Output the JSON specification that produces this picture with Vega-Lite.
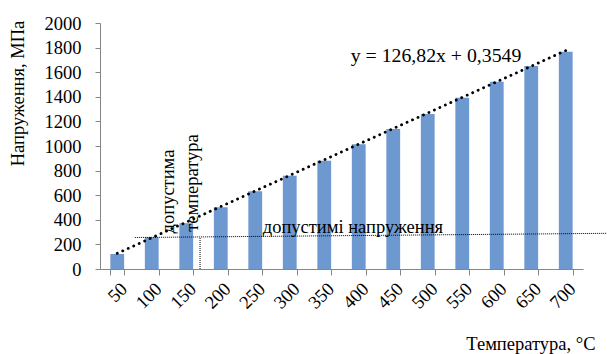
{
  "$schema": "https://vega.github.io/schema/vega-lite/v6.json",
  "width": 483,
  "height": 246,
  "autosize": "none",
  "padding": {"left": 100, "top": 23, "right": 24, "bottom": 85},
  "background": "white",
  "config": {"font": "Liberation Serif", "view": {"stroke": null},
    "axis": {"labelFont": "Liberation Serif", "titleFont": "Liberation Serif", "labelOverlap": false, "grid": false},
    "text": {"font": "Liberation Serif"}},
  "resolve": {"scale": {"x": "independent"}, "axis": {"x": "independent"}},
  "layer": [
    {
      "data": {"values": [
        {"t": "50", "v": 122, "trend": 127.2},
        {"t": "100", "v": 258},
        {"t": "150", "v": 372},
        {"t": "200", "v": 502},
        {"t": "250", "v": 632},
        {"t": "300", "v": 759},
        {"t": "350", "v": 880},
        {"t": "400", "v": 1014},
        {"t": "450", "v": 1138},
        {"t": "500", "v": 1260},
        {"t": "550", "v": 1393},
        {"t": "600", "v": 1523},
        {"t": "650", "v": 1650},
        {"t": "700", "v": 1767, "trend": 1775.8}
      ]},
      "layer": [
        {
          "mark": {"type": "bar", "color": "#6e98d0"},
          "encoding": {
            "x": {"field": "t", "type": "ordinal", "sort": null,
              "scale": {"paddingInner": 0.6, "paddingOuter": 0.3},
              "axis": {"title": "Температура, °C", "labelAngle": -45, "labelFontSize": 18.5, "labelColor": "black",
                "tickBand": "extent", "tickSize": 6, "tickColor": "#868686", "domainColor": "#868686",
                "labelPadding": 4, "titleFontSize": 18.5, "titleFontWeight": "normal", "titleColor": "black",
                "titleX": 495, "titleY": 74, "titleAlign": "right", "titleBaseline": "middle", "grid": false}},
            "y": {"field": "v", "type": "quantitative", "scale": {"domain": [0, 2000], "nice": false},
              "axis": {"title": "Напруження, МПа", "values": [0, 200, 400, 600, 800, 1000, 1200, 1400, 1600, 1800, 2000], "format": "d", "labelOverlap": false, "labelFontSize": 18.5, "labelColor": "black", "labelPadding": 14, "tickSize": 5, "tickColor": "#868686", "domainColor": "#868686", "grid": false, "titleFontSize": 18.5, "titleFontWeight": "normal", "titleColor": "black", "titleX": -83, "titleY": 70, "titleAlign": "center", "titleBaseline": "middle"}}
          }
        },
        {
          "transform": [{"filter": "isValid(datum.trend)"}],
          "mark": {"type": "line", "color": "black", "strokeWidth": 2.8, "strokeDash": [0.1, 5.9], "strokeCap": "round"},
          "encoding": {
            "x": {"field": "t", "type": "ordinal", "sort": null},
            "y": {"field": "trend", "type": "quantitative", "scale": {"domain": [0, 2000], "nice": false},
              "axis": {"title": "Напруження, МПа", "values": [0, 200, 400, 600, 800, 1000, 1200, 1400, 1600, 1800, 2000], "format": "d", "labelOverlap": false, "labelFontSize": 18.5, "labelColor": "black", "labelPadding": 14, "tickSize": 5, "tickColor": "#868686", "domainColor": "#868686", "grid": false, "titleFontSize": 18.5, "titleFontWeight": "normal", "titleColor": "black", "titleX": -83, "titleY": 70, "titleAlign": "center", "titleBaseline": "middle"}}
          }
        }
      ]
    },
    {
      "layer": [
        {
          "data": {"values": [{"px": 1.01, "py": 256}, {"px": 14.7, "py": 290}]},
          "mark": {"type": "line", "color": "black", "strokeWidth": 1, "strokeDash": [1, 1], "clip": false},
          "encoding": {
            "x": {"field": "px", "type": "quantitative", "scale": {"domain": [0, 14], "nice": false, "zero": false}, "axis": null},
            "y": {"field": "py", "type": "quantitative", "scale": {"domain": [0, 2000], "nice": false},
              "axis": {"title": "Напруження, МПа", "values": [0, 200, 400, 600, 800, 1000, 1200, 1400, 1600, 1800, 2000], "format": "d", "labelOverlap": false, "labelFontSize": 18.5, "labelColor": "black", "labelPadding": 14, "tickSize": 5, "tickColor": "#868686", "domainColor": "#868686", "grid": false, "titleFontSize": 18.5, "titleFontWeight": "normal", "titleColor": "black", "titleX": -83, "titleY": 70, "titleAlign": "center", "titleBaseline": "middle"}}
          }
        },
        {
          "data": {"values": [{"px": 2.9, "py": 0, "py2": 256}]},
          "mark": {"type": "rule", "color": "black", "strokeWidth": 1, "strokeDash": [1, 1]},
          "encoding": {
            "x": {"field": "px", "type": "quantitative", "scale": {"domain": [0, 14], "nice": false, "zero": false}, "axis": null},
            "y": {"field": "py", "type": "quantitative", "scale": {"domain": [0, 2000], "nice": false},
              "axis": {"title": "Напруження, МПа", "values": [0, 200, 400, 600, 800, 1000, 1200, 1400, 1600, 1800, 2000], "format": "d", "labelOverlap": false, "labelFontSize": 18.5, "labelColor": "black", "labelPadding": 14, "tickSize": 5, "tickColor": "#868686", "domainColor": "#868686", "grid": false, "titleFontSize": 18.5, "titleFontWeight": "normal", "titleColor": "black", "titleX": -83, "titleY": 70, "titleAlign": "center", "titleBaseline": "middle"}},
            "y2": {"field": "py2"}
          }
        },
        {
          "data": {"values": [
            {"px": 1.97, "py": 630, "label": "допустима"},
            {"px": 2.67, "py": 699, "label": "температура"}
          ]},
          "mark": {"type": "text", "angle": 270, "align": "center", "baseline": "middle", "fontSize": 18.5, "color": "black"},
          "encoding": {
            "x": {"field": "px", "type": "quantitative", "scale": {"domain": [0, 14], "nice": false, "zero": false}, "axis": null},
            "y": {"field": "py", "type": "quantitative", "scale": {"domain": [0, 2000], "nice": false},
              "axis": {"title": "Напруження, МПа", "values": [0, 200, 400, 600, 800, 1000, 1200, 1400, 1600, 1800, 2000], "format": "d", "labelOverlap": false, "labelFontSize": 18.5, "labelColor": "black", "labelPadding": 14, "tickSize": 5, "tickColor": "#868686", "domainColor": "#868686", "grid": false, "titleFontSize": 18.5, "titleFontWeight": "normal", "titleColor": "black", "titleX": -83, "titleY": 70, "titleAlign": "center", "titleBaseline": "middle"}},
            "text": {"field": "label"}
          }
        },
        {
          "data": {"values": [
            {"px": 7.33, "py": 293, "label": "допустимі напруження", "fs": 18.5},
            {"px": 9.74, "py": 1683, "label": "y = 126,82x + 0,3549", "fs": 19.8}
          ]},
          "mark": {"type": "text", "align": "center", "baseline": "alphabetic", "color": "black"},
          "encoding": {
            "x": {"field": "px", "type": "quantitative", "scale": {"domain": [0, 14], "nice": false, "zero": false}, "axis": null},
            "y": {"field": "py", "type": "quantitative", "scale": {"domain": [0, 2000], "nice": false},
              "axis": {"title": "Напруження, МПа", "values": [0, 200, 400, 600, 800, 1000, 1200, 1400, 1600, 1800, 2000], "format": "d", "labelOverlap": false, "labelFontSize": 18.5, "labelColor": "black", "labelPadding": 14, "tickSize": 5, "tickColor": "#868686", "domainColor": "#868686", "grid": false, "titleFontSize": 18.5, "titleFontWeight": "normal", "titleColor": "black", "titleX": -83, "titleY": 70, "titleAlign": "center", "titleBaseline": "middle"}},
            "size": {"field": "fs", "type": "quantitative", "scale": null, "legend": null},
            "text": {"field": "label"}
          }
        }
      ]
    }
  ]
}
